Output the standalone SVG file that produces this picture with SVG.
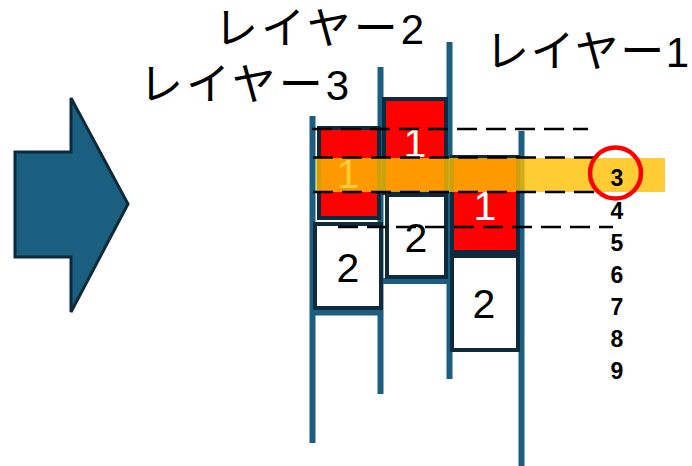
<svg xmlns="http://www.w3.org/2000/svg" width="692" height="466" viewBox="0 0 692 466">
<style>
.title{font-family:"Noto Sans CJK JP","Liberation Sans",sans-serif;font-size:44px;fill:#000}
.col{stroke:#1b5e80;stroke-width:6;fill:none}
.red{fill:#ff0000;stroke:#0d2b3c;stroke-width:4}
.white{fill:#ffffff;stroke:#0d2b3c;stroke-width:4}
.n1{font-family:"Liberation Sans",Arial,sans-serif;font-size:41px;fill:#ffffff;text-anchor:middle}
.n2{font-family:"Liberation Sans",Arial,sans-serif;font-size:41px;fill:#000;text-anchor:middle}
.dash{stroke:#000;stroke-width:2.5;stroke-dasharray:20 9;fill:none}
.num{font-family:"Liberation Sans",Arial,sans-serif;font-weight:bold;font-size:23px;fill:#000;text-anchor:middle}
</style>
<rect width="692" height="466" fill="#ffffff"/>
<g id="arrow">
<polygon points="15,152 71,152 71,98 128,204 71,312 71,257 15,257" fill="#1a5e80" stroke="#0c2a3a" stroke-width="3" stroke-linejoin="miter"/>
</g>
<g id="titles">
<text class="title" x="214" y="44"><tspan letter-spacing="3">レイヤー</tspan><tspan style="font-family:'Liberation Sans',Arial,sans-serif;font-size:42px">2</tspan></text>
<text class="title" x="139" y="100"><tspan letter-spacing="3">レイヤー</tspan><tspan style="font-family:'Liberation Sans',Arial,sans-serif;font-size:42px">3</tspan></text>
<text class="title" x="485" y="67"><tspan letter-spacing="1.5">レイヤー</tspan><tspan style="font-family:'Liberation Sans',Arial,sans-serif;font-size:42px">1</tspan></text>
</g>
<g id="connectors">
<line class="col" x1="312.5" y1="116" x2="312.5" y2="443"/>
<line class="col" x1="380.5" y1="67" x2="380.5" y2="394"/>
<line class="col" x1="449.5" y1="42" x2="449.5" y2="379"/>
<line class="col" x1="521.5" y1="131" x2="521.5" y2="466"/>
<line class="col" x1="310" y1="312.5" x2="383" y2="312.5"/>
<line class="col" x1="378" y1="281" x2="452" y2="281"/>
</g>
<g id="col1-box1"><rect class="red" x="319" y="128" width="60" height="90"/><text class="n1" x="348" y="188">1</text></g>
<g id="col1-box2"><rect class="white" x="315" y="224" width="66" height="84"/><text class="n2" x="348" y="282">2</text></g>
<g id="col2-box1"><rect class="red" x="384" y="99" width="62" height="94"/><text class="n1" x="415" y="157">1</text></g>
<g id="col2-box2"><rect class="white" x="387" y="195" width="59" height="82"/><text class="n2" x="416" y="252">2</text></g>
<g id="col3-box1"><rect class="red" x="452" y="157" width="66" height="95"/><text class="n1" x="485" y="220">1</text></g>
<g id="col3-box2"><rect class="white" x="452" y="256" width="66" height="94"/><text class="n2" x="484" y="318">2</text></g>
<g id="band">
<rect x="316" y="158" width="349" height="34" fill="#ffbf00" fill-opacity="0.8"/>
</g>
<g id="dashes">
<line class="dash" x1="312" y1="129" x2="588" y2="129"/>
<line class="dash" x1="313" y1="157.5" x2="595" y2="157.5"/>
<line class="dash" x1="313" y1="192" x2="595" y2="192"/>
<line class="dash" x1="338" y1="227" x2="613" y2="227"/>
</g>
<g id="numbers">
<circle cx="615.5" cy="173" r="25.5" fill="none" stroke="#ff0000" stroke-width="4.5"/>
<text class="num" x="617" y="186">3</text>
<text class="num" x="617" y="219">4</text>
<text class="num" x="617" y="251">5</text>
<text class="num" x="617" y="283">6</text>
<text class="num" x="617" y="315">7</text>
<text class="num" x="617" y="347">8</text>
<text class="num" x="617" y="379">9</text>
</g>
</svg>
